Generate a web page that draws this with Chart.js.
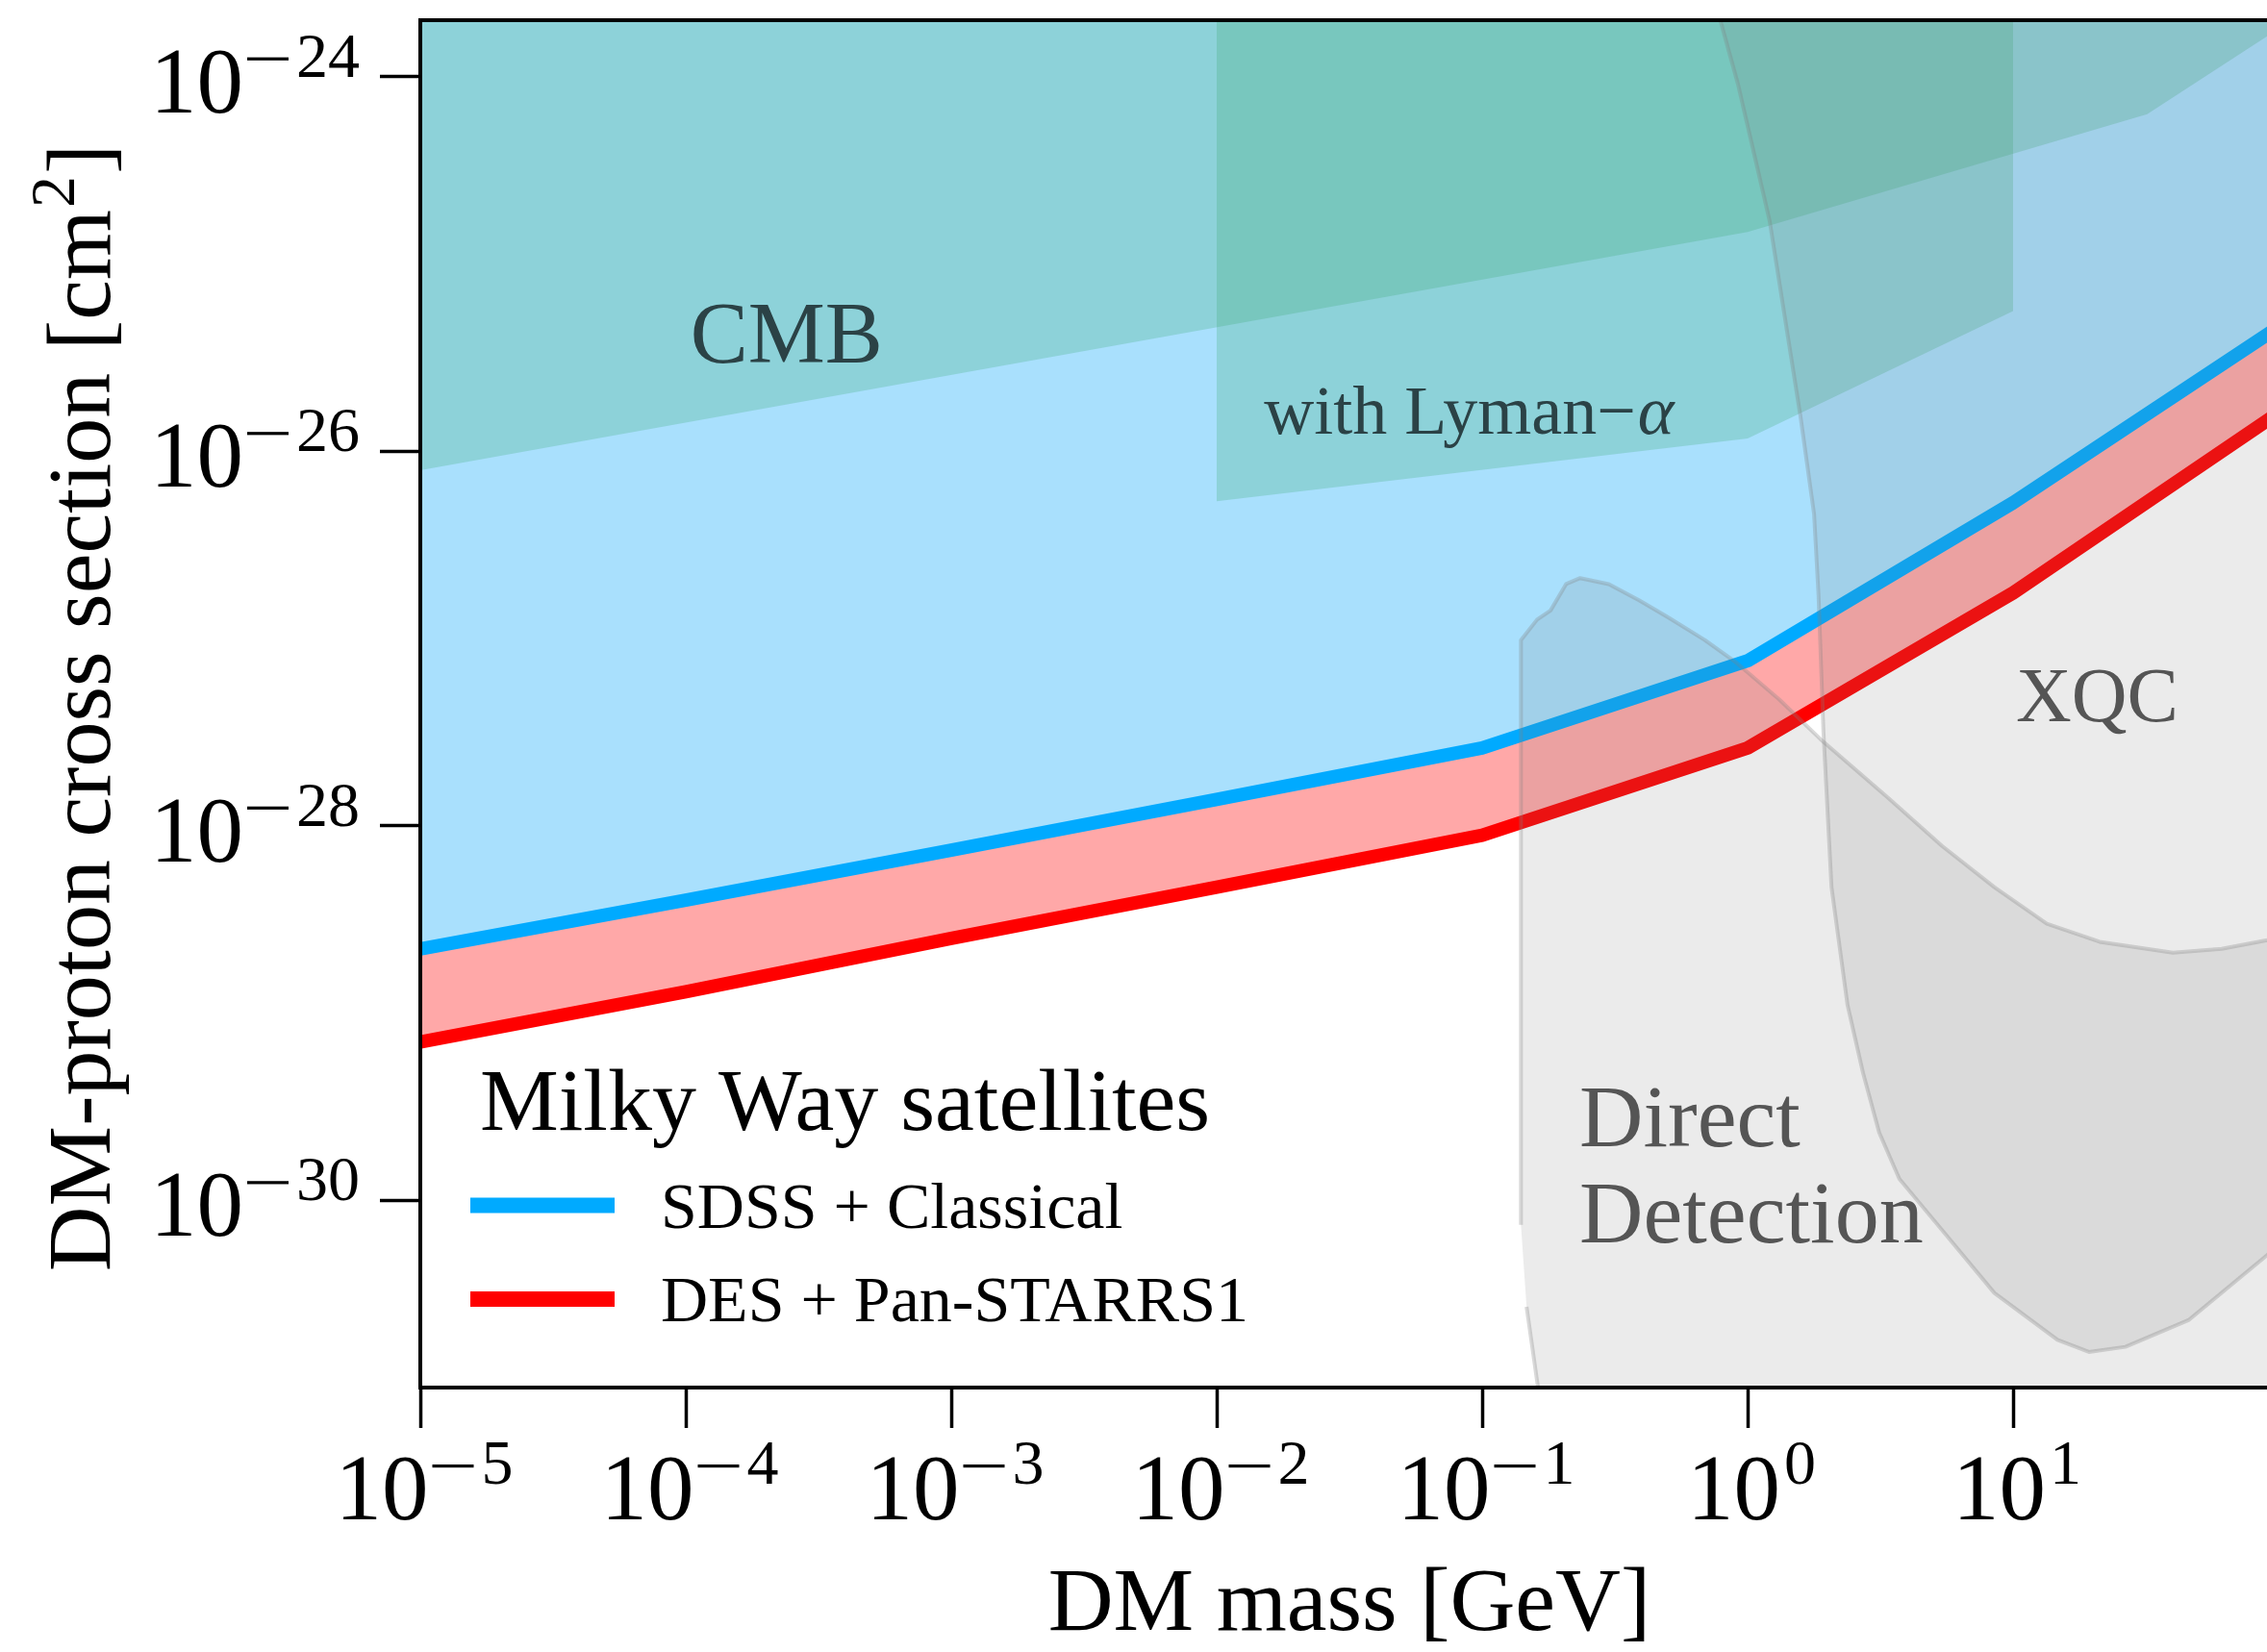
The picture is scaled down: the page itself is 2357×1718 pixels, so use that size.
<!DOCTYPE html>
<html>
<head>
<meta charset="utf-8">
<title>DM-proton cross section</title>
<script src="https://cdn.jsdelivr.net/npm/chart.js@4.4.1/dist/chart.umd.min.js"></script>
<style>
  html, body { margin: 0; padding: 0; background: #fff; overflow: hidden; }
  #wrap { width: 2420px; height: 1718px; }
</style>
</head>
<body>
<div id="wrap"><canvas id="chart" width="2420" height="1718"></canvas></div>
<script>
// satellite limits (mass in GeV, cross section in cm^2)
const massGeV = [1e-5, 1e-4, 1e-3, 1e-2, 1e-1, 1, 10, 100];
const sdssClassical = [2.2e-29, 4.0e-29, 7.4e-29, 1.38e-28, 2.6e-28, 7.6e-28, 5.3e-27, 4.6e-26];
const desPanstarrs = [7.0e-30, 1.3e-29, 2.5e-29, 4.7e-29, 8.9e-29, 2.6e-28, 1.75e-27, 1.6e-26];

// other bounds, outlines of the shaded regions
const cmbMass = [1e-5, 1, 32, 100, 160, 160, 1e-5];
const cmbSigma = [7.9e-27, 1.48e-25, 6.3e-25, 1.8e-24, 2.8e-24, 1e-23, 1e-23];

const lymanMass = [0.01, 0.01, 1, 10, 10];
const lymanSigma = [1e-23, 5.4e-27, 1.17e-26, 5.6e-26, 1e-23];

const xqcMass = [160, 0.63, 0.72, 0.92, 1.21, 1.58, 1.78, 1.85, 1.93, 2.07, 2.38, 2.72, 3.13, 3.73,
  5.2, 8.5, 14.7, 19.3, 26.5, 46, 90.6, 160];
const xqcSigma = [1e-23, 1e-23, 3.2e-24, 9.1e-25, 1.7e-25, 1.55e-26, 4.6e-27, 1.7e-27, 3.2e-28, 4.7e-29,
  1.1e-29, 4.8e-30, 2.3e-30, 1.3e-30, 7.4e-31, 3.2e-31, 1.8e-31, 1.55e-31, 1.65e-31, 2.3e-31,
  5.1e-31, 1e-30];

const ddMass = [0.14, 0.14, 0.161, 0.181, 0.207, 0.234, 0.30, 0.39, 0.50, 0.69, 0.91, 1.32, 1.88,
  3.4, 5.4, 8.5, 13.4, 21.2, 40, 61, 90.6, 160, 160, 0.166, 0.147];
const ddSigma = [7.4e-31, 9.8e-28, 1.26e-27, 1.41e-27, 1.95e-27, 2.1e-27, 1.95e-27, 1.6e-27, 1.3e-27,
  9.8e-28, 7.4e-28, 4.7e-28, 2.9e-28, 1.4e-28, 7.8e-29, 4.7e-29, 3.0e-29, 2.4e-29, 2.1e-29,
  2.2e-29, 2.45e-29, 3.2e-29, 1e-32, 8e-32, 2.7e-31];

const xTicks = [1e-5, 1e-4, 1e-3, 1e-2, 1e-1, 1, 10];
const yTicks = [1e-24, 1e-26, 1e-28, 1e-30];
const legendLabels = ['SDSS + Classical', 'DES + Pan-STARRS1'];

const SERIF = '"Liberation Serif", "DejaVu Serif", serif';
const TICK_PX = 97, SUP_PX = 66, SUP_RISE = 37, MINUS_W = 43;

function pts(xs, ys) {
  return xs.map(function (x, i) { return { x: x, y: ys[i] }; });
}

function region(label, xs, ys, fillColor, edgeColor, edgeWidth, order) {
  return {
    label: label, data: pts(xs, ys), fill: 'shape', backgroundColor: fillColor,
    borderColor: edgeColor || 'rgba(0,0,0,0)', borderWidth: edgeWidth || 0,
    borderJoinStyle: 'round', pointRadius: 0, order: order, clip: 0
  };
}

// power-of-ten label: "10" with raised exponent (long TeX-like minus)
function drawPow(ctx, exp, x, baseline, align) {
  const digits = String(Math.abs(exp));
  const neg = exp < 0;
  ctx.font = TICK_PX + 'px ' + SERIF;
  const wb = ctx.measureText('10').width;
  ctx.font = SUP_PX + 'px ' + SERIF;
  const wd = ctx.measureText(digits).width;
  const wm = neg ? MINUS_W + 8 : 0;
  const total = wb + 4 + wm + wd;
  const left = align === 'right' ? x - total : x - total / 2 + 4;
  ctx.textAlign = 'left';
  ctx.textBaseline = 'alphabetic';
  ctx.font = TICK_PX + 'px ' + SERIF;
  ctx.fillText('10', left, baseline);
  let cx = left + wb + 4;
  if (neg) {
    ctx.fillRect(cx, baseline - SUP_RISE - 20, MINUS_W, 3.2);
    cx += MINUS_W + 8;
  }
  ctx.font = SUP_PX + 'px ' + SERIF;
  ctx.fillText(digits, cx, baseline - SUP_RISE);
}

const regionNames = [
  { lines: ['CMB'], x: 1.04e-4, y: 2.96e-26, size: 90, color: '#2b4246' },
  { lines: ['XQC'], x: 10.26, y: 3.6e-28, size: 80, color: '#555555' },
  { lines: ['Direct', 'Detection'], x: 0.2323, y: 1.945e-30, size: 92, color: '#555555', lead: 100 }
];

const textPlugin = {
  id: 'texts',
  afterDatasetsDraw: function (chart) {
    const ctx = chart.ctx, xs = chart.scales.x, ys = chart.scales.y;
    ctx.save();
    ctx.textAlign = 'left';
    ctx.textBaseline = 'alphabetic';
    regionNames.forEach(function (r) {
      ctx.font = r.size + 'px ' + SERIF;
      ctx.fillStyle = r.color;
      const px = xs.getPixelForValue(r.x), py = ys.getPixelForValue(r.y);
      r.lines.forEach(function (t, i) { ctx.fillText(t, px, py + i * (r.lead || 0)); });
    });
    // "with Lyman-alpha", alpha in italic
    ctx.fillStyle = '#2b4246';
    ctx.font = '72px ' + SERIF;
    const lx = xs.getPixelForValue(0.01507), ly = ys.getPixelForValue(1.236e-26);
    const s = 'with Lyman\u2212';
    ctx.fillText(s, lx, ly);
    const w = ctx.measureText(s).width;
    ctx.font = 'italic 72px ' + SERIF;
    ctx.fillText('\u03b1', lx + w + 2, ly);
    ctx.restore();
  },
  afterDraw: function (chart) {
    const ctx = chart.ctx, a = chart.chartArea, xs = chart.scales.x, ys = chart.scales.y;
    ctx.save();
    // top spine
    ctx.strokeStyle = '#000';
    ctx.lineWidth = 4;
    ctx.beginPath();
    ctx.moveTo(a.left - 2, a.top);
    ctx.lineTo(a.right + 2, a.top);
    ctx.stroke();

    ctx.fillStyle = '#000';
    yTicks.forEach(function (v) {
      drawPow(ctx, Math.round(Math.log10(v)), a.left - 63, ys.getPixelForValue(v) + SUP_RISE, 'right');
    });
    xTicks.forEach(function (v) {
      drawPow(ctx, Math.round(Math.log10(v)), xs.getPixelForValue(v), a.bottom + 137, 'center');
    });

    // axis titles
    ctx.font = '94px ' + SERIF;
    ctx.textAlign = 'center';
    ctx.fillText('DM mass [GeV]', (a.left + a.right) / 2, a.bottom + 252);

    ctx.save();
    ctx.translate(114, (a.top + a.bottom) / 2 + 4);
    ctx.rotate(-Math.PI / 2);
    const t1 = 'DM-proton cross section [cm', t3 = ']';
    ctx.font = '94px ' + SERIF;
    const w1 = ctx.measureText(t1).width, w3 = ctx.measureText(t3).width;
    ctx.font = '66px ' + SERIF;
    const w2 = ctx.measureText('2').width;
    const x0 = -(w1 + w2 + w3 + 4) / 2;
    ctx.textAlign = 'left';
    ctx.font = '94px ' + SERIF;
    ctx.fillText(t1, x0, 0);
    ctx.font = '66px ' + SERIF;
    ctx.fillText('2', x0 + w1 + 2, -37);
    ctx.font = '94px ' + SERIF;
    ctx.fillText(t3, x0 + w1 + w2 + 4, 0);
    ctx.restore();

    // legend
    ctx.textAlign = 'left';
    ctx.font = '92px ' + SERIF;
    ctx.fillText('Milky Way satellites', a.left + 62, 1175);
    legendLabels.forEach(function (label, i) {
      const d = chart.data.datasets.find(function (ds) { return ds.label === label; });
      const cy = 1253.5 + i * 97.5;
      ctx.strokeStyle = d.borderColor;
      ctx.lineWidth = 16;
      ctx.lineCap = 'butt';
      ctx.beginPath();
      ctx.moveTo(a.left + 52, cy);
      ctx.lineTo(a.left + 202, cy);
      ctx.stroke();
      ctx.font = '68px ' + SERIF;
      ctx.fillStyle = '#000';
      ctx.fillText(label, a.left + 250, cy + 23);
    });
    ctx.restore();
  }
};

function logAxis(min, max, ticks) {
  return {
    type: 'logarithmic', min: min, max: max, bounds: 'data',
    afterBuildTicks: function (axis) { axis.ticks = ticks.map(function (v) { return { value: v }; }); },
    ticks: { display: false },
    grid: { drawOnChartArea: false, drawTicks: true, tickLength: 42, tickWidth: 3.5, tickColor: '#000' },
    border: { display: true, color: '#000', width: 4, z: 1 }
  };
}

new Chart(document.getElementById('chart'), {
  type: 'line',
  data: {
    datasets: [
      { label: 'sdss-fill', data: pts(massGeV, sdssClassical), fill: 'end',
        backgroundColor: 'rgb(169,224,253)', borderWidth: 0, pointRadius: 0, order: 20, clip: 0 },
      { label: 'des-fill', data: pts(massGeV, desPanstarrs), fill: 0,
        backgroundColor: 'rgba(255,0,0,0.34)', borderWidth: 0, pointRadius: 0, order: 19, clip: 0 },
      { label: 'DES + Pan-STARRS1', data: pts(massGeV, desPanstarrs), fill: false,
        borderColor: '#ff0000', borderWidth: 14, pointRadius: 0, order: 11, clip: 0 },
      { label: 'SDSS + Classical', data: pts(massGeV, sdssClassical), fill: false,
        borderColor: '#00aaff', borderWidth: 14, pointRadius: 0, order: 10, clip: 0 },
      region('CMB', cmbMass, cmbSigma, 'rgba(61,168,113,0.25)', null, 0, 5),
      region('with Lyman-alpha', lymanMass, lymanSigma, 'rgba(61,168,113,0.25)', null, 0, 4),
      region('XQC', xqcMass, xqcSigma, 'rgba(122,122,122,0.15)', 'rgba(128,128,128,0.3)', 4, 3),
      region('Direct Detection', ddMass, ddSigma, 'rgba(122,122,122,0.15)', 'rgba(128,128,128,0.3)', 4, 2)
    ]
  },
  options: {
    responsive: false,
    animation: false,
    layout: { padding: { left: 395, top: 21, right: 51, bottom: 233 } },
    elements: { line: { tension: 0, borderJoinStyle: 'round' } },
    plugins: { legend: { display: false }, tooltip: { enabled: false }, filler: { propagate: false } },
    scales: {
      x: logAxis(1e-5, 100, xTicks),
      y: logAxis(1e-31, 2e-24, yTicks)
    }
  },
  plugins: [textPlugin]
});
</script>
</body>
</html>
